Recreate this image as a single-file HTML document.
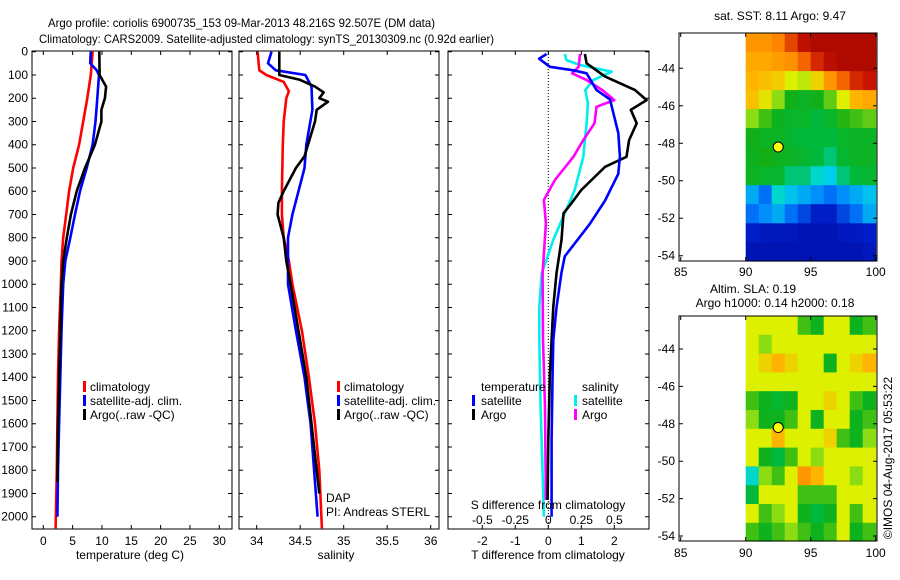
<!DOCTYPE html>
<html><head><meta charset="utf-8"><style>
body{margin:0;background:#fff}
svg{display:block;font-family:"Liberation Sans",sans-serif;font-size:12px}
</style></head><body>
<svg id="c" width="900" height="580" viewBox="0 0 900 580" xmlns="http://www.w3.org/2000/svg">
<text x="48" y="27" textLength="387" lengthAdjust="spacingAndGlyphs">Argo profile: coriolis 6900735_153 09-Mar-2013 48.216S 92.507E (DM data)</text>
<text x="39" y="43" textLength="455" lengthAdjust="spacingAndGlyphs">Climatology: CARS2009. Satellite-adjusted climatology: synTS_20130309.nc (0.92d earlier)</text>
<text x="780" y="20" text-anchor="middle">sat. SST: 8.11 Argo: 9.47</text>
<text x="753" y="293" text-anchor="middle">Altim. SLA: 0.19</text>
<text x="775" y="307" text-anchor="middle">Argo h1000: 0.14 h2000: 0.18</text>
<text transform="translate(892,458) rotate(-90)" text-anchor="middle">©IMOS 04-Aug-2017 05:53:22</text>
<g id="g"></g>
</svg>
<script>
// ---------- data ----------
const depthTicks=[0,100,200,300,400,500,600,700,800,900,1000,1100,1200,1300,1400,1500,1600,1700,1800,1900,2000];
const tempTicks=[0,5,10,15,20,25,30];
const salTicks=[34,34.5,35,35.5,36];
const tdiffTicks=[-2,-1,0,1,2];
const sdiffTicks=[-0.5,-0.25,0,0.25,0.5];
const lonTicks=[85,90,95,100];
const latTicks=[-44,-46,-48,-50,-52,-54];

const climTdepth=[0,100,200,300,400,500,600,700,800,900,1000,1200,1400,1600,1800,2050];
const climT=[8.4,8.1,7.5,6.8,6.1,5.1,4.4,3.9,3.4,3.1,3.0,2.7,2.5,2.4,2.3,2.1];
const satTdepth=[0,50,80,100,200,300,400,500,600,700,800,900,1000,1200,1400,1600,1800,2000];
const satT=[8.1,8.0,9.1,9.5,9.2,8.9,8.4,7.4,6.25,5.4,4.6,3.75,3.4,3.1,2.9,2.7,2.5,2.4];
const argoTdepth=[0,100,150,200,250,300,400,500,600,700,800,900,1000,1200,1400,1600,1850];
const argoT=[9.55,9.6,10.7,10.5,9.9,9.9,8.8,7.1,5.7,4.7,4.0,3.4,3.1,2.9,2.7,2.5,2.4];

const climSdepth=[0,80,100,130,170,200,300,400,600,700,800,900,1000,1200,1400,1600,1800,2050];
const climS=[34.01,34.03,34.11,34.31,34.37,34.34,34.31,34.30,34.29,34.29,34.31,34.37,34.41,34.52,34.60,34.67,34.72,34.75];
const satSdepth=[0,50,80,100,150,250,400,500,600,700,800,1000,1200,1400,1600,1800,2000];
const satS=[34.17,34.13,34.22,34.56,34.63,34.64,34.57,34.55,34.48,34.41,34.36,34.36,34.45,34.55,34.62,34.66,34.70];
const argoSdepth=[0,100,120,150,175,200,215,250,300,400,450,500,600,650,700,800,900,1000,1200,1400,1600,1800,1900];
const argoS=[34.26,34.26,34.49,34.67,34.77,34.72,34.82,34.69,34.67,34.59,34.55,34.45,34.31,34.25,34.24,34.31,34.34,34.39,34.48,34.57,34.63,34.69,34.72];

const dTsatDepth=[10,30,65,80,93,165,205,350,450,525,640,740,880,950,1100,1240,1380,1670,2000];
const dTsat=[-0.05,-0.28,0.05,0.76,1.16,1.46,1.87,2.12,2.17,2.12,1.72,1.26,0.5,0.4,0.25,0.15,0.13,0.1,0.1];
const dTargoDepth=[10,50,107,165,208,250,308,380,452,495,595,652,695,810,953,1097,1383,1670,1928];
const dTargo=[1.11,1.16,1.72,2.63,2.98,2.5,2.68,2.45,2.37,1.72,1.0,0.7,0.46,0.4,0.25,0.15,0.05,0,-0.02];
const dSsatDepth=[10,36,57,86,122,165,222,308,452,595,695,810,953,1097,1240,1527,1813,2000];
const dSsat=[0.125,0.137,0.24,0.48,0.34,0.28,0.30,0.29,0.265,0.2,0.125,0.037,-0.05,-0.068,-0.068,-0.058,-0.043,-0.033];
const dSargoDepth=[10,65,93,122,165,208,237,308,380,452,552,638,738,953,1240,1527,1928];
const dSargo=[0.24,0.23,0.18,0.29,0.41,0.5,0.365,0.35,0.265,0.19,0.05,-0.033,-0.018,-0.043,-0.04,-0.025,-0.018];

const sstGrid=[
[0.75,0.75,0.78,0.85,0.92,0.95,0.95,0.95,0.95,0.95],
[0.72,0.72,0.74,0.76,0.82,0.88,0.93,0.95,0.95,0.95],
[0.7,0.68,0.66,0.6,0.58,0.65,0.75,0.82,0.88,0.9],
[0.68,0.62,0.55,0.46,0.44,0.46,0.52,0.6,0.7,0.72],
[0.55,0.5,0.45,0.43,0.43,0.4,0.43,0.48,0.5,0.52],
[0.46,0.44,0.44,0.42,0.4,0.4,0.4,0.43,0.44,0.44],
[0.45,0.47,0.45,0.44,0.42,0.4,0.38,0.42,0.44,0.44],
[0.44,0.43,0.42,0.38,0.38,0.35,0.33,0.38,0.4,0.42],
[0.3,0.25,0.35,0.32,0.3,0.28,0.25,0.28,0.3,0.32],
[0.25,0.28,0.3,0.25,0.2,0.15,0.15,0.2,0.25,0.3],
[0.15,0.13,0.12,0.12,0.1,0.1,0.1,0.12,0.13,0.15],
[0.1,0.1,0.1,0.1,0.1,0.1,0.1,0.1,0.1,0.12]];
const slaGrid=[
[0.6,0.6,0.6,0.6,0.5,0.45,0.6,0.6,0.45,0.5],
[0.6,0.55,0.6,0.6,0.6,0.6,0.6,0.6,0.6,0.6],
[0.6,0.65,0.7,0.65,0.6,0.6,0.45,0.6,0.65,0.7],
[0.6,0.6,0.6,0.6,0.6,0.6,0.6,0.6,0.6,0.6],
[0.5,0.45,0.42,0.45,0.6,0.6,0.65,0.6,0.5,0.45],
[0.55,0.45,0.45,0.5,0.6,0.45,0.6,0.6,0.45,0.5],
[0.6,0.6,0.7,0.6,0.6,0.6,0.65,0.5,0.45,0.55],
[0.6,0.45,0.4,0.5,0.6,0.55,0.6,0.6,0.6,0.6],
[0.35,0.55,0.5,0.6,0.75,0.7,0.6,0.6,0.55,0.6],
[0.4,0.6,0.6,0.6,0.5,0.5,0.5,0.6,0.6,0.6],
[0.6,0.5,0.55,0.6,0.45,0.4,0.45,0.6,0.5,0.6],
[0.5,0.45,0.5,0.55,0.5,0.45,0.5,0.6,0.45,0.5]];
const argoLon=[92.5];
const argoLat=[-48.2];

// ---------- drawing ----------
const NS='http://www.w3.org/2000/svg';
const G=document.getElementById('g');
function mk(tag,attrs,parent){const e=document.createElementNS(NS,tag);for(const k in attrs)e.setAttribute(k,attrs[k]);(parent||G).appendChild(e);return e;}
function lin(d0,d1,r0,r1){return v=>r0+(v-d0)*(r1-r0)/(d1-d0);}
const yD=lin(0,2000,51.7,516.7);
const PT=51,PB=529;

function frame(name,x0,x1,y0,y1){
  const r=mk('rect',{x:x0,y:y0,width:x1-x0,height:y1-y0,fill:'none',stroke:'#000','stroke-width':1});
  
  
}
function xTicks(name,ticks,sx,y0,y1,labY,fmt){
  ticks.forEach(t=>{const x=sx(t);
    const l=mk('path',{d:`M${x},${y1}v-4M${x},${y0}v4`,stroke:'#000','stroke-width':1});
    
    
    if(labY){const tx=mk('text',{x:x,y:labY,'text-anchor':'middle'});tx.textContent=fmt?fmt(t):t;
      
      }
  });
}
function yTicks(name,ticks,sy,x0,x1,labX){
  ticks.forEach(t=>{const y=sy(t);
    const l=mk('path',{d:`M${x0},${y}h4M${x1},${y}h-4`,stroke:'#000','stroke-width':1});
    
    
    if(labX){const tx=mk('text',{x:labX,y:y+4,'text-anchor':'end'});tx.textContent=t;
      
      }
  });
}
function line(name,vals,depths,sx,color,x0,x1){
  const d=vals.map((v,i)=>(i?'L':'M')+Math.min(Math.max(sx(v),x0),x1).toFixed(1)+','+yD(depths[i]).toFixed(1)).join('');
  const p=mk('path',{d:d,fill:'none',stroke:color,'stroke-width':2.6,'stroke-linejoin':'round'});
  
  
}
function txt(name,s,x,y,anchor){const t=mk('text',{x:x,y:y,'text-anchor':anchor||'start'});t.textContent=s;
  
  }
function mark(name,x,y,c){const r=mk('rect',{x:x,y:y-6,width:3,height:11,fill:c});
  
  }

// panel 1 temperature
const sT=lin(0,30,43.3,219.3);
line('climatology-temperature-line',climT,climTdepth,sT,'#f00',32,232);
line('satellite-temperature-line',satT,satTdepth,sT,'#00f',32,232);
line('argo-temperature-line',argoT,argoTdepth,sT,'#000',32,232);
frame('temperature-axes',32,232,PT,PB);
xTicks('temperature-x',tempTicks,sT,PT,PB,545);
yTicks('depth-y',depthTicks,yD,32,232,28);
txt('temperature-axis-title','temperature (deg C)',130,559,'middle');
mark('legend-clim-marker',83,387,'#f00');txt('legend-clim','climatology',90,391);
mark('legend-sat-marker',83,401,'#00f');txt('legend-sat','satellite-adj. clim.',90,405);
mark('legend-argo-marker',83,415,'#000');txt('legend-argo','Argo(..raw -QC)',90,419);

// panel 2 salinity
const sS=lin(34,36,256.7,430.7);
line('climatology-salinity-line',climS,climSdepth,sS,'#f00',239,439);
line('satellite-salinity-line',satS,satSdepth,sS,'#00f',239,439);
line('argo-salinity-line',argoS,argoSdepth,sS,'#000',239,439);
frame('salinity-axes',239,439,PT,PB);
xTicks('salinity-x',salTicks,sS,PT,PB,545);
yTicks('salinity-depth',depthTicks,yD,239,439,null);
txt('salinity-axis-title','salinity',336,559,'middle');
mark('legend2-clim-marker',337,387,'#f00');txt('legend2-clim','climatology',344,391);
mark('legend2-sat-marker',337,401,'#00f');txt('legend2-sat','satellite-adj. clim.',344,405);
mark('legend2-argo-marker',337,415,'#000');txt('legend2-argo','Argo(..raw -QC)',344,419);
txt('dap-label','DAP',326,502);
txt('pi-label','PI: Andreas STERL',326,516);

// panel 3 differences
const sDT=lin(0,2,548.3,614.3);
const sDS=lin(0,0.5,548.3,614.3);
const zl=mk('path',{d:`M548.3,${PT}V${PB}`,stroke:'#000','stroke-width':1,'stroke-dasharray':'1,2'});


line('salinity-satellite-diff-line',dSsat,dSsatDepth,sDS,'#0ee',448,649);
line('salinity-argo-diff-line',dSargo,dSargoDepth,sDS,'#f0f',448,649);
line('temperature-argo-diff-line',dTargo,dTargoDepth,sDT,'#000',448,649);
line('temperature-satellite-diff-line',dTsat,dTsatDepth,sDT,'#00f',448,649);
frame('difference-axes',448,649,PT,PB);
xTicks('tdiff-x',tdiffTicks,sDT,PT,PB,545);
yTicks('diff-depth',depthTicks,yD,448,649,null);
txt('tdiff-axis-title','T difference from climatology',548,559,'middle');
txt('sdiff-axis-title','S difference from climatology',548,509,'middle');
sdiffTicks.forEach(t=>txt('sdiff-tick-label',t===0?'0':String(t),sDS(t),524,'middle'));
txt('legend3-temp-title','temperature',481,391);
mark('legend3-tsat-marker',472,401,'#00f');txt('legend3-tsat','satellite',481,405);
mark('legend3-targo-marker',472,415,'#000');txt('legend3-targo','Argo',481,419);
txt('legend3-sal-title','salinity',582,391);
mark('legend3-ssat-marker',574,401,'#0ee');txt('legend3-ssat','satellite',582,405);
mark('legend3-sargo-marker',574,415,'#f0f');txt('legend3-sargo','Argo',582,419);

// maps
const cmapStops=[[0,[0,0,140]],[0.15,[0,30,200]],[0.27,[0,130,255]],[0.34,[0,220,230]],[0.4,[0,185,60]],[0.47,[20,175,20]],[0.55,[140,220,20]],[0.6,[220,240,0]],[0.7,[255,180,0]],[0.8,[255,120,0]],[0.9,[200,20,0]],[1,[150,0,0]]];
function cmap(v){
  for(let i=1;i<cmapStops.length;i++){const [a,ca]=cmapStops[i-1],[b,cb]=cmapStops[i];
    if(v<=b){const f=(v-a)/(b-a);return 'rgb('+ca.map((c,k)=>Math.round(c+(cb[k]-c)*f)).join(',')+')';}}
  return 'rgb(150,0,0)';
}
function map(name,grid,top,bottom,lat44,lat54,labY){
  const sx=lin(85,100,680.7,875.7), sy=lin(-44,-54,lat44,lat54);
  const latTop=-44+(lat44-top)/((lat54-lat44)/10);
  const rows=grid.length, cols=grid[0].length;
  const dLat=(latTop-(-54.3))/rows;
  grid.forEach((row,i)=>row.forEach((v,j)=>{
    const x0=sx(90+j*10/cols), x1=sx(90+(j+1)*10/cols);
    const y0=sy(latTop-i*dLat), y1=sy(latTop-(i+1)*dLat);
    const r=mk('rect',{x:x0.toFixed(1),y:y0.toFixed(1),width:(x1-x0+0.6).toFixed(1),height:(Math.min(y1,bottom)-y0+0.6).toFixed(1),fill:cmap(v)});
    
    
  }));
  frame(name+'-axes',679,877,top,bottom);
  xTicks(name+'-x',lonTicks,sx,top,bottom,labY);
  yTicks(name+'-y',latTicks,sy,679,877,675);
  const c=mk('circle',{cx:sx(argoLon[0]),cy:sy(argoLat[0]),r:5,fill:'#ff0',stroke:'#000','stroke-width':1});
  
  
}
map('sst-map',sstGrid,33,261,68.3,255.7,276);
map('sla-map',slaGrid,316,541,349,536,557);
</script>
</body></html>
